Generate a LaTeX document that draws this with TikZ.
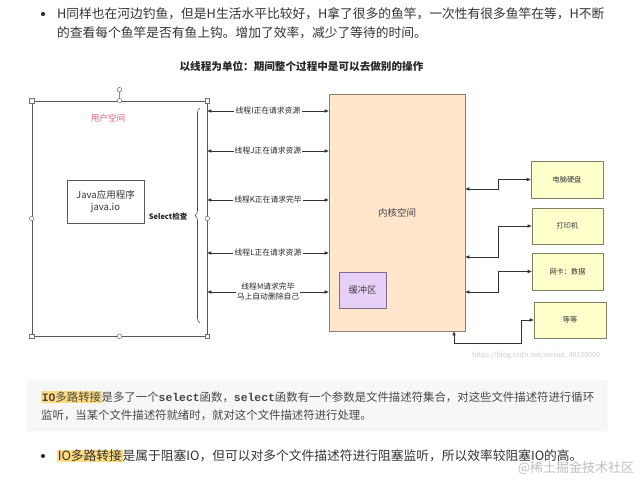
\documentclass[tikz,border=0pt]{standalone}
\usepackage{fontspec}
\setmainfont{Noto Sans CJK SC}
\setmonofont{Liberation Mono}
\usepackage{xcolor}
\usetikzlibrary{arrows.meta,positioning,calc,decorations.pathreplacing}

\definecolor{txt}{HTML}{333333}
\definecolor{kern}{HTML}{FFE6CC}
\definecolor{kernline}{HTML}{8C7F70}
\definecolor{buf}{HTML}{E6D0F7}
\definecolor{bufline}{HTML}{7D6C8C}
\definecolor{dev}{HTML}{FFFFCC}
\definecolor{devline}{HTML}{808066}
\definecolor{hl}{HTML}{FDDB7E}
\definecolor{quotebg}{HTML}{F7F7F7}
\definecolor{userred}{HTML}{E0607E}

\newcommand{\hlbox}[1]{{\setlength{\fboxsep}{0.6pt}\colorbox{hl}{#1}}}

\begin{document}
\begin{tikzpicture}[x=1pt,y=-1pt,
  >={Triangle[length=4pt,width=3.2pt]},
  para/.style={anchor=west,inner sep=0pt,text=txt,font=\fontsize{12.75}{19}\selectfont},
  qline/.style={anchor=west,inner sep=0pt,text=txt!90,font=\fontsize{11.4}{16}\selectfont},
  userbox/.style={draw=black!65,line width=0.7pt,minimum width=175,minimum height=235},
  hsq/.style={rectangle,draw=black!55,fill=white,minimum size=4.5pt,inner sep=0pt,line width=0.5pt},
  hcirc/.style={circle,draw=black!55,fill=white,minimum size=4.5pt,inner sep=0pt,line width=0.5pt},
  javabox/.style={draw=black!65,line width=0.7pt,minimum width=77,minimum height=43,align=center,
    font=\fontsize{9.5}{11.5}\selectfont,text=black!80},
  kernbox/.style={draw=kernline,fill=kern,line width=0.7pt,minimum width=136,minimum height=237,
    font=\fontsize{9.5}{11}\selectfont,text=black!75},
  bufbox/.style={draw=bufline,fill=buf,line width=0.7pt,minimum width=47,minimum height=36,
    font=\fontsize{9.3}{11}\selectfont,text=black!75},
  devbox/.style={draw=devline,fill=dev,line width=0.7pt,minimum width=72,minimum height=37,
    font=\fontsize{7.2}{9}\selectfont,text=black!80},
  tlabel/.style={fill=white,inner sep=1.2pt,align=center,font=\fontsize{7.8}{10}\selectfont,text=black!85},
  conn/.style={<->,draw=black!80,line width=0.6pt}]

\useasboundingbox (0,0) rectangle (641,481);
\fill[white] (0,0) rectangle (641,481);

%% first bullet
\fill[txt] (43,14) circle (2.1);
\node[para] (p1) at (57,14) {H同样也在河边钓鱼，但是H生活水平比较好，H拿了很多的鱼竿，一次性有很多鱼竿在等，H不断};
\node[para] (p2) at (57,33) {的查看每个鱼竿是否有鱼上钩。增加了效率，减少了等待的时间。};

%% title
\node[font=\bfseries\fontsize{10.6}{12}\selectfont,text=black!85] (title) at (301.5,66)
  {以线程为单位：期间整个过程中是可以去做别的操作};

%% user space (selected shape, with handles)
\node[userbox] (user) at (119.5,218.5) {};
\node[hcirc,draw=userred!80!black] (rot) at ($(user.north)+(0,-11)$) {};
\draw[userred,line width=0.6pt] (rot) -- (user.north);
\foreach \a in {north west,north east,south west,south east}
  \node[hsq] (h-\a) at (user.\a) {};
\foreach \a in {north,south,east,west}
  \node[hcirc] (c-\a) at (user.\a) {};
\node[font=\fontsize{8.6}{10}\selectfont,text=userred] (ulabel) at (108,118) {用户空间};
\node[javabox] (java) at (105.5,201.5) {Java应用程序\\java.io};
\node[font=\bfseries\fontsize{7.5}{9}\selectfont,text=black!85] (sel) at (168,217) {Select检查};

%% brace
\coordinate (bt) at (200,108);
\coordinate (bb) at (200,323);
\draw[decorate,decoration={brace,amplitude=5pt},draw=black!70,line width=0.6pt] (bb) -- (bt);

%% kernel space
\node[kernbox] (kernel) at (397,212.5) {内核空间};
\node[bufbox] (buf) at (362.5,290) {缓冲区};

%% thread requests
\foreach \y/\txt in {111/线程I正在请求资源, 151/线程J正在请求资源, 200/线程K正在请求完毕,
  253/线程L正在请求资源, 292/{线程M请求完毕\\马上自动删除自己}}
  \draw[conn] (user.east |- 0,\y) -- node[tlabel] {\txt} (kernel.west |- 0,\y);

%% devices
\node[devbox] (disk) at (567,179.5) {电脑硬盘};
\node[devbox,minimum width=71,minimum height=36] (printer) at (567.5,226) {打印机};
\node[devbox,minimum width=71] (nic) at (567.5,271.5) {网卡：数据};
\node[devbox,minimum height=36] (etc) at (570,320) {等等};

\coordinate (k1) at (kernel.east |- 0,189);
\coordinate (k2) at (kernel.east |- 0,257);
\coordinate (k3) at (kernel.east |- 0,292);
\coordinate (k4) at (kernel.south -| 454,0);
\draw[conn] (k1) -- ++(33,0) |- (disk.west);
\draw[conn] (k2) -- ++(33,0) |- (printer.west);
\draw[conn] (k3) -- ++(33,0) |- (nic.west);
\draw[conn] (k4) -- ++(0,12) -| ($(etc.west)+(-12,0)$) -- (etc.west);

\node[font=\fontsize{7}{8}\selectfont,text=black!20] (csdn) at (536,356) {https://blog.csdn.net/weixin\_40138000};

%% quote block
\node[fill=quotebg,draw=black!6,rounded corners=1.5pt,minimum width=580,minimum height=51] (quote) at (317,405.5) {};
\node[qline] (q1) at (41,397) {\hlbox{\ttfamily\bfseries IO\rmfamily\mdseries 多路转接}是多了一个{\ttfamily\bfseries select}函数，{\ttfamily\bfseries select}函数有一个参数是文件描述符集合，对这些文件描述符进行循环};
\node[qline] (q2) at (41,415) {监听，当某个文件描述符就绪时，就对这个文件描述符进行处理。};

%% second bullet
\fill[txt] (43,456) circle (2.1);
\node[para] (b2) at (57,456) {\hlbox{IO多路转接}是属于阻塞IO，但可以对多个文件描述符进行阻塞监听，所以效率较阻塞IO的高。};

\node[font=\fontsize{13}{15}\selectfont,text=black!25] (jj) at (576,468) {@稀土掘金技术社区};

\end{tikzpicture}
\end{document}
